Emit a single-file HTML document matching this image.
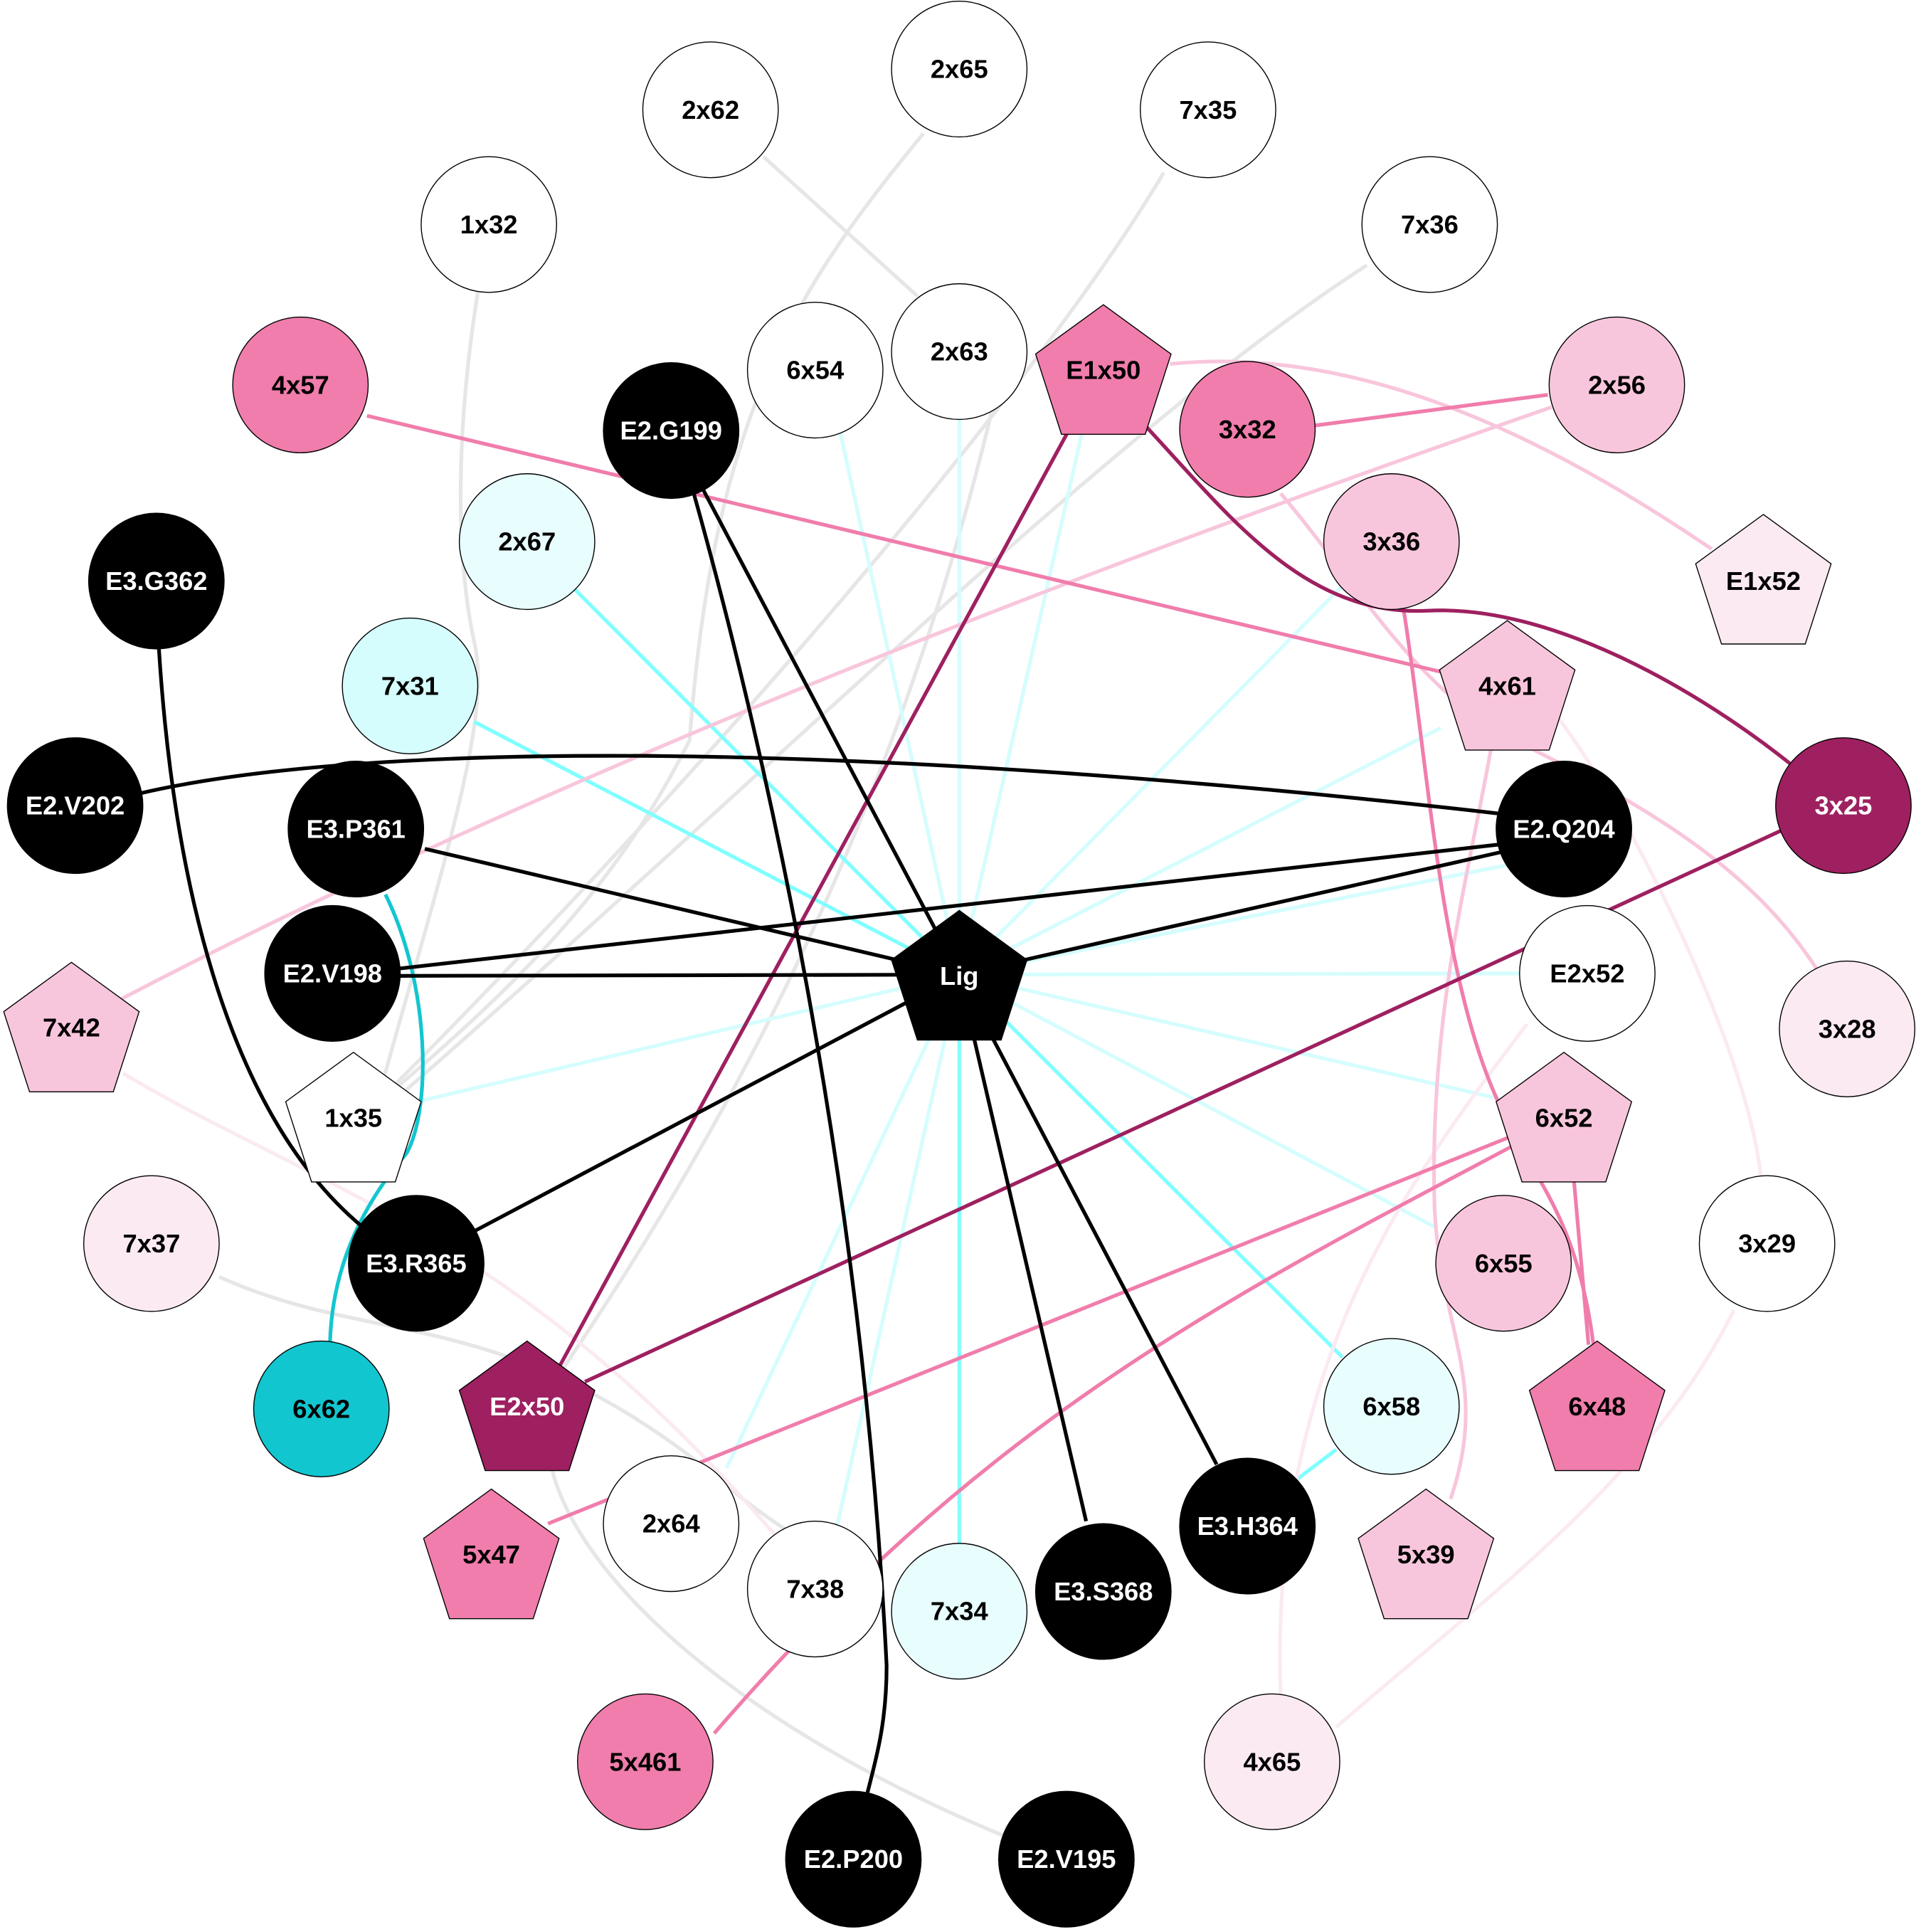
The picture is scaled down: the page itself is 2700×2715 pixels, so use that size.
<!DOCTYPE html>
<html><head><meta charset="utf-8"><style>
html,body{margin:0;padding:0;background:#fff;}
svg{display:block;}
text{font-family:"Liberation Sans",Arial,sans-serif;font-weight:bold;font-size:21px;text-anchor:middle;dominant-baseline:central;}
.w{fill:#fff;}
</style></head><body>
<svg width="2700" height="2715" viewBox="0 0 1560 1566" preserveAspectRatio="none" xmlns="http://www.w3.org/2000/svg">
<defs><polygon id="p" points="0,-58 55,-18 34,47 -34,47 -55,-18" stroke="#000" stroke-width="0.8"/></defs>
<g fill="none" stroke-width="3">
<g stroke="#e6e6e6">
<path d="M388,237 C370,350 370,450 385,520 C400,580 360,700 310,880"/>
<path d="M620,127 L745,240"/>
<path d="M750,108 C650,230 580,330 560,600 C500,720 420,800 300,900"/>
<path d="M945,140 C850,300 600,600 300,900"/>
<path d="M1110,215 C900,350 600,650 305,905"/>
<path d="M178,1035 C300,1090 400,1060 560,1180 C620,1230 650,1250 662,1250"/>
<path d="M448,1190 C470,1280 600,1400 820,1490"/>
<path d="M450,1120 C600,900 740,640 820,270"/>
</g>
<g stroke="#d5fdfd">
<line x1="779" y1="790" x2="680" y2="340"/>
<line x1="779" y1="790" x2="779" y2="340"/>
<line x1="779" y1="790" x2="880" y2="345"/>
<line x1="779" y1="790" x2="1090" y2="475"/>
<line x1="779" y1="790" x2="1170" y2="590"/>
<line x1="779" y1="790" x2="1230" y2="700"/>
<line x1="779" y1="790" x2="1234" y2="789"/>
<line x1="779" y1="790" x2="1215" y2="890"/>
<line x1="779" y1="790" x2="1166" y2="995"/>
<line x1="779" y1="790" x2="330" y2="895"/>
<line x1="779" y1="790" x2="590" y2="1190"/>
<line x1="779" y1="790" x2="680" y2="1236"/>
</g>
<g stroke="#80ffff">
<line x1="779" y1="790" x2="467" y2="478"/>
<line x1="779" y1="790" x2="385" y2="585"/>
<line x1="779" y1="790" x2="779" y2="1252"/>
<line x1="779" y1="790" x2="1090" y2="1100"/>
<line x1="1085" y1="1175" x2="1052" y2="1200"/>
</g>
<g stroke="#fbeaf2">
<path d="M100,870 C250,960 420,1000 630,1245"/>
<path d="M1240,830 C1150,950 1030,1100 1040,1375"/>
<path d="M1408,1062 C1340,1200 1200,1300 1085,1400"/>
<path d="M1260,575 C1320,650 1420,850 1430,955"/>
</g>
<g stroke="#f8c6dc">
<path d="M1260,330 C1000,420 500,600 98,810"/>
<path d="M950,295 C1100,280 1250,350 1390,445"/>
<path d="M1040,400 C1100,470 1150,560 1230,600 C1330,650 1420,700 1475,785"/>
<path d="M1212,600 C1195,700 1160,820 1165,980 C1170,1080 1210,1120 1178,1215"/>
</g>
<g stroke="#f07dac">
<line x1="298" y1="337" x2="1172" y2="545"/>
<line x1="1067" y1="345" x2="1257" y2="320"/>
<path d="M1140,495 C1160,620 1170,800 1220,900 C1240,950 1280,980 1294,1090"/>
<line x1="1278" y1="955" x2="1290" y2="1090"/>
<line x1="1225" y1="922" x2="445" y2="1235"/>
<path d="M1230,928 C1000,1050 800,1150 580,1405"/>
</g>
<g stroke="#9e2060">
<line x1="870" y1="345" x2="453" y2="1110"/>
<path d="M930,345 C1000,420 1060,500 1160,495 C1260,490 1380,560 1455,620"/>
<line x1="1447" y1="673" x2="475" y2="1120"/>
</g>
<path stroke="#12c6cf" d="M313,725 C350,800 350,900 330,935 C300,970 270,1020 268,1088"/>
<g stroke="#000">
<line x1="779" y1="790" x2="570" y2="395"/>
<line x1="779" y1="790" x2="345" y2="688"/>
<line x1="779" y1="790" x2="325" y2="791"/>
<line x1="779" y1="790" x2="1222" y2="690"/>
<line x1="779" y1="790" x2="385" y2="998"/>
<line x1="779" y1="790" x2="882" y2="1233"/>
<line x1="779" y1="790" x2="988" y2="1187"/>
<line x1="325" y1="785" x2="1222" y2="684"/>
<path d="M114,643 C300,600 700,600 1222,660"/>
<path d="M562,395 C620,600 700,950 720,1350 C720,1400 710,1430 704,1455"/>
<path d="M129,525 C140,700 180,900 295,995"/>
</g>
</g>
<g stroke="#000" stroke-width="0.8">
<circle cx="779" cy="56" r="55" fill="#fff"/>
<circle cx="577" cy="89" r="55" fill="#fff"/>
<circle cx="981" cy="89" r="55" fill="#fff"/>
<circle cx="397" cy="182" r="55" fill="#fff"/>
<circle cx="1161" cy="182" r="55" fill="#fff"/>
<circle cx="244" cy="312" r="55" fill="#f07dac"/>
<circle cx="662" cy="300" r="55" fill="#fff"/>
<circle cx="779" cy="285" r="55" fill="#fff"/>
<circle cx="1013" cy="348" r="55" fill="#f07dac"/>
<circle cx="1313" cy="312" r="55" fill="#f8c6dc"/>
<circle cx="545" cy="349" r="55" fill="#000"/>
<circle cx="428" cy="439" r="55" fill="#e8fdfd"/>
<circle cx="1130" cy="439" r="55" fill="#f8c6dc"/>
<circle cx="127" cy="471" r="55" fill="#000"/>
<circle cx="333" cy="556" r="55" fill="#d5fdfd"/>
<circle cx="61" cy="653" r="55" fill="#000"/>
<circle cx="289" cy="672" r="55" fill="#000"/>
<circle cx="1270" cy="672" r="55" fill="#000"/>
<circle cx="1497" cy="653" r="55" fill="#9e2060"/>
<circle cx="270" cy="789" r="55" fill="#000"/>
<circle cx="1289" cy="789" r="55" fill="#fff"/>
<circle cx="1500" cy="834" r="55" fill="#fbeaf2"/>
<circle cx="123" cy="1008" r="55" fill="#fbeaf2"/>
<circle cx="338" cy="1024" r="55" fill="#000"/>
<circle cx="1221" cy="1024" r="55" fill="#f8c6dc"/>
<circle cx="1435" cy="1008" r="55" fill="#fff"/>
<circle cx="261" cy="1142" r="55" fill="#12c6cf"/>
<circle cx="1130" cy="1140" r="55" fill="#e8fdfd"/>
<circle cx="545" cy="1235" r="55" fill="#fff"/>
<circle cx="1013" cy="1237" r="55" fill="#000"/>
<circle cx="662" cy="1288" r="55" fill="#fff"/>
<circle cx="779" cy="1306" r="55" fill="#e8fdfd"/>
<circle cx="896" cy="1290" r="55" fill="#000"/>
<circle cx="524" cy="1428" r="55" fill="#f07dac"/>
<circle cx="1033" cy="1428" r="55" fill="#fbeaf2"/>
<circle cx="693" cy="1507" r="55" fill="#000"/>
<circle cx="866" cy="1507" r="55" fill="#000"/>
<use href="#p" x="896" y="305" fill="#f07dac"/>
<use href="#p" x="1432" y="475" fill="#fbeaf2"/>
<use href="#p" x="1224" y="561" fill="#f8c6dc"/>
<use href="#p" x="779" y="796" fill="#000"/>
<use href="#p" x="58" y="838" fill="#f8c6dc"/>
<use href="#p" x="287" y="911" fill="#fff"/>
<use href="#p" x="1270" y="911" fill="#f8c6dc"/>
<use href="#p" x="428" y="1145" fill="#9e2060"/>
<use href="#p" x="1297" y="1145" fill="#f07dac"/>
<use href="#p" x="399" y="1265" fill="#f07dac"/>
<use href="#p" x="1158" y="1265" fill="#f8c6dc"/>
</g>
<g>
<text x="779" y="56">2x65</text>
<text x="577" y="89">2x62</text>
<text x="981" y="89">7x35</text>
<text x="397" y="182">1x32</text>
<text x="1161" y="182">7x36</text>
<text x="244" y="312">4x57</text>
<text x="662" y="300">6x54</text>
<text x="779" y="285">2x63</text>
<text x="896" y="300">E1x50</text>
<text x="1013" y="348">3x32</text>
<text x="1313" y="312">2x56</text>
<text x="545" y="349" class="w">E2.G199</text>
<text x="428" y="439">2x67</text>
<text x="1130" y="439">3x36</text>
<text x="1432" y="471">E1x52</text>
<text x="127" y="471" class="w">E3.G362</text>
<text x="333" y="556">7x31</text>
<text x="1224" y="556">4x61</text>
<text x="61" y="653" class="w">E2.V202</text>
<text x="289" y="672" class="w">E3.P361</text>
<text x="1270" y="672" class="w">E2.Q204</text>
<text x="1497" y="653" class="w">3x25</text>
<text x="270" y="789" class="w">E2.V198</text>
<text x="779" y="791" class="w">Lig</text>
<text x="1289" y="789">E2x52</text>
<text x="58" y="833">7x42</text>
<text x="1500" y="834">3x28</text>
<text x="287" y="906">1x35</text>
<text x="1270" y="906">6x52</text>
<text x="123" y="1008">7x37</text>
<text x="338" y="1024" class="w">E3.R365</text>
<text x="1221" y="1024">6x55</text>
<text x="1435" y="1008">3x29</text>
<text x="261" y="1142">6x62</text>
<text x="428" y="1140" class="w">E2x50</text>
<text x="1130" y="1140">6x58</text>
<text x="1297" y="1140">6x48</text>
<text x="545" y="1235">2x64</text>
<text x="1013" y="1237" class="w">E3.H364</text>
<text x="399" y="1260">5x47</text>
<text x="1158" y="1260">5x39</text>
<text x="662" y="1288">7x38</text>
<text x="779" y="1306">7x34</text>
<text x="896" y="1290" class="w">E3.S368</text>
<text x="524" y="1428">5x461</text>
<text x="1033" y="1428">4x65</text>
<text x="693" y="1507" class="w">E2.P200</text>
<text x="866" y="1507" class="w">E2.V195</text>
</g>
</svg>
</body></html>
